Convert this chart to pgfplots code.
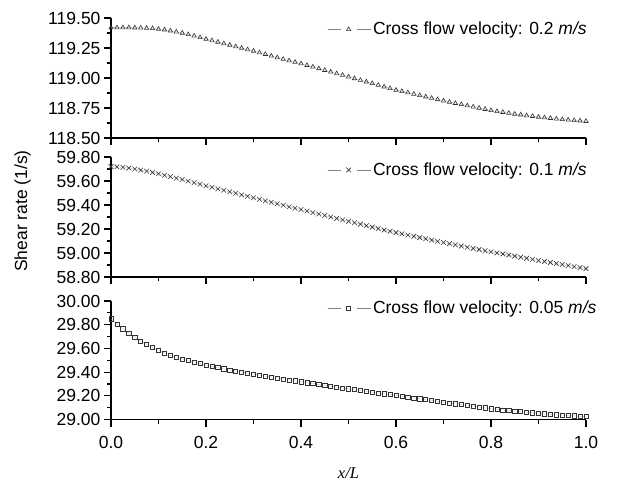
\documentclass[border=0pt]{standalone}
\usepackage{fontspec}
\setmainfont{Liberation Sans}
\newfontfamily\timesfont{Liberation Serif}
\usepackage{pgfplots}
\usepackage{pgfplotstable}
\pgfplotsset{compat=1.18}

% x, shear rate for 0.2, 0.1 and 0.05 m/s
\pgfplotstableread{
x      a       b      c
0      119.420 59.720 29.850
0.0125 119.420 59.718 29.805
0.025  119.420 59.714 29.765
0.0375 119.420 59.708 29.728
0.05   119.419 59.700 29.695
0.0625 119.418 59.691 29.662
0.075  119.416 59.682 29.633
0.0875 119.413 59.671 29.607
0.1    119.408 59.660 29.583
0.1125 119.402 59.648 29.562
0.125  119.394 59.636 29.543
0.1375 119.385 59.624 29.526
0.15   119.375 59.612 29.511
0.1625 119.363 59.599 29.497
0.175  119.351 59.586 29.484
0.1875 119.338 59.573 29.472
0.2    119.325 59.560 29.460
0.2125 119.312 59.548 29.449
0.225  119.300 59.535 29.438
0.2375 119.287 59.523 29.428
0.25   119.275 59.510 29.418
0.2625 119.262 59.498 29.409
0.275  119.250 59.485 29.400
0.2875 119.237 59.473 29.391
0.3    119.225 59.460 29.382
0.3125 119.212 59.448 29.374
0.325  119.198 59.435 29.366
0.3375 119.184 59.423 29.358
0.35   119.170 59.410 29.350
0.3625 119.157 59.398 29.342
0.375  119.145 59.385 29.334
0.3875 119.132 59.373 29.326
0.4    119.120 59.362 29.318
0.4125 119.106 59.350 29.310
0.425  119.093 59.337 29.303
0.4375 119.079 59.325 29.295
0.45   119.065 59.312 29.288
0.4625 119.051 59.300 29.280
0.475  119.037 59.288 29.273
0.4875 119.024 59.276 29.266
0.5    119.010 59.264 29.259
0.5125 118.996 59.252 29.252
0.525  118.982 59.240 29.245
0.5375 118.969 59.228 29.238
0.55   118.955 59.216 29.231
0.5625 118.941 59.204 29.224
0.575  118.927 59.192 29.217
0.5875 118.914 59.181 29.210
0.6    118.900 59.170 29.203
0.6125 118.889 59.160 29.196
0.625  118.878 59.149 29.189
0.6375 118.866 59.139 29.182
0.65   118.855 59.128 29.175
0.6625 118.844 59.118 29.168
0.675  118.832 59.108 29.161
0.6875 118.821 59.098 29.154
0.7    118.810 59.088 29.147
0.7125 118.800 59.078 29.140
0.725  118.790 59.068 29.133
0.7375 118.780 59.058 29.126
0.75   118.770 59.048 29.119
0.7625 118.760 59.038 29.112
0.775  118.750 59.029 29.105
0.7875 118.740 59.019 29.098
0.8    118.730 59.010 29.091
0.8125 118.722 59.001 29.086
0.825  118.715 58.992 29.081
0.8375 118.707 58.983 29.076
0.85   118.700 58.974 29.071
0.8625 118.694 58.965 29.066
0.875  118.687 58.956 29.061
0.8875 118.681 58.947 29.056
0.9    118.675 58.938 29.052
0.9125 118.670 58.930 29.048
0.925  118.665 58.921 29.044
0.9375 118.660 58.913 29.040
0.95   118.655 58.904 29.037
0.9625 118.651 58.896 29.034
0.975  118.647 58.887 29.031
0.9875 118.644 58.879 29.028
1.0    118.640 58.870 29.025
}\shear

\pgfplotsset{
  panel/.style={
    scale only axis, width=475pt, anchor=north west,
    xmin=0, xmax=1,
    axis x line=bottom, axis y line=left,
    axis line style={-, line width=1.2pt},
    tick align=outside,
    major tick length=7pt, minor tick length=4pt,
    tick style={black, line width=1.2pt},
    xtick={0,0.2,0.4,0.6,0.8,1.0}, minor x tick num=1, minor y tick num=1,
    tick label style={font=\fontsize{17.5}{20}\selectfont},
    /pgf/number format/assume math mode=true,
    xticklabel style={/pgf/number format/fixed, /pgf/number format/fixed zerofill,
      /pgf/number format/precision=1},
    yticklabel style={/pgf/number format/fixed, /pgf/number format/fixed zerofill,
      /pgf/number format/precision=2},
    legend style={draw=none, fill=none, inner xsep=0pt, inner ysep=0pt,
      font=\fontsize{17.5}{20}\selectfont, anchor=west},
    legend cell align=left,
    legend image code/.code={
      \draw[gray, line width=0.7pt] (0pt,0pt) -- (13pt,0pt) (29pt,0pt) -- (43pt,0pt);
      \draw[##1] plot coordinates {(21pt,0pt)};
    },
  },
  ser/.style={color=gray!60, line width=0.3pt, mark=#1,
    mark options={draw=black!80, line width=0.6pt}},
}

\begin{document}
\begin{tikzpicture}
\path[use as bounding box] (0pt,0pt) rectangle (628pt,-482pt);

\begin{axis}[panel, at={(111pt,-18pt)}, height=120pt,
  ymin=118.5, ymax=119.5, ytick={118.5,118.75,119,119.25,119.5},
  xticklabels={},
  legend style={at={(0.455,0.905)}}]
\addplot[ser=triangle, mark size=2.5pt] table[x=x, y=a] {\shear};
\addlegendentry{Cross flow velocity: 0.2 \textit{m/s}}
\end{axis}

\begin{axis}[panel, at={(111pt,-157pt)}, height=120pt,
  ymin=58.8, ymax=59.8, ytick={58.8,59.0,59.2,59.4,59.6,59.8},
  xticklabels={},
  legend style={at={(0.455,0.892)}}]
\addplot[ser=x, mark size=3.3pt] table[x=x, y=b] {\shear};
\addlegendentry{Cross flow velocity: 0.1 \textit{m/s}}
\end{axis}

\begin{axis}[panel, at={(111pt,-301pt)}, height=118.5pt,
  ymin=29, ymax=30, ytick={29.0,29.2,29.4,29.6,29.8,30.0},
  xticklabel style={yshift=-6pt},
  legend style={at={(0.455,0.941)}}]
\addplot[ser=square, mark size=2.1pt] table[x=x, y=c] {\shear};
\addlegendentry{Cross flow velocity: 0.05 \textit{m/s}}
\end{axis}

\node[rotate=90, anchor=base, font=\fontsize{17.5}{20}\selectfont] at (27pt,-211pt) {Shear rate (1/s)};
\node[anchor=base, font=\fontsize{16.5}{19}\selectfont\timesfont\itshape] at (348.5pt,-478pt) {x/L};
\end{tikzpicture}
\end{document}
